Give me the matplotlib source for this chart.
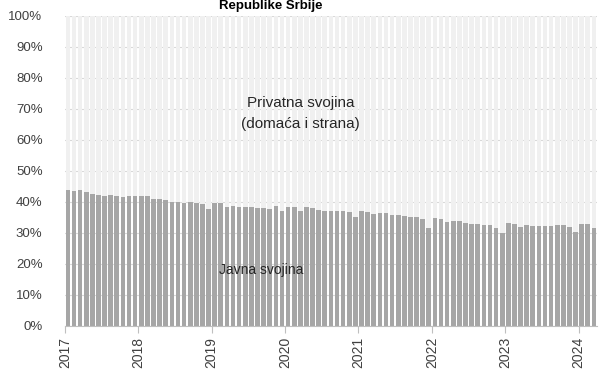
"""
Struktura svojine - javna vs privatna, mesecno 2017-2024
"""
import matplotlib
matplotlib.use("Agg")
import matplotlib.pyplot as plt
import numpy as np

# Mesecni podaci: jan 2017 - mar 2024, udeo javne svojine (%)
javna = [
    # 2017
    43.9, 43.6, 43.9, 43.1, 42.6, 42.2, 41.9, 42.2, 41.9, 41.7, 41.8, 42.0,
    # 2018
    41.9, 41.9, 41.1, 40.9, 40.5, 39.9, 39.9, 39.8, 39.9, 39.6, 39.3, 37.7,
    # 2019
    39.5, 39.5, 38.4, 38.7, 38.3, 38.3, 38.3, 38.1, 38.1, 37.6, 38.8, 37.2,
    # 2020
    38.5, 38.5, 37.2, 38.5, 38.0, 37.4, 37.2, 37.2, 37.1, 37.0, 36.8, 35.2,
    # 2021
    37.2, 36.8, 36.0, 36.4, 36.3, 35.8, 35.8, 35.6, 35.2, 35.1, 34.4, 31.7,
    # 2022
    34.7, 34.5, 33.5, 33.7, 33.7, 33.1, 32.9, 32.8, 32.7, 32.7, 31.7, 29.9,
    # 2023
    33.1, 32.9, 31.8, 32.7, 32.4, 32.1, 32.1, 32.3, 32.7, 32.6, 31.8, 30.4,
    # 2024
    33.0, 32.8, 31.7,
]
privatna = [100 - v for v in javna]
godine = ["2017", "2018", "2019", "2020", "2021", "2022", "2023", "2024"]

x = np.arange(len(javna))

plt.rcParams["font.family"] = ["Liberation Sans", "DejaVu Sans"]

fig = plt.figure(figsize=(6, 3.7), dpi=100)
ax = fig.add_axes([0.108, 0.119, 0.887, 0.838])

ax.bar(x, javna, width=0.76, color="#a6a6a6", zorder=2)
ax.bar(x, privatna, bottom=javna, width=0.76, color="#f0f0f0", zorder=2)

ax.set_xlim(-0.5, len(javna) - 0.5)
ax.set_ylim(0, 100)
ax.set_yticks(np.arange(0, 101, 10))
ax.set_yticklabels([f"{v}%" for v in range(0, 101, 10)], fontsize=9.5, color="#404040")
ax.yaxis.grid(True, color="#d9d9d9", linewidth=0.8, zorder=0)
ax.tick_params(axis="y", length=0, pad=16)

# godine na pocetku januara
ax.set_xticks(np.arange(0, len(javna), 12) - 0.5)
ax.set_xticklabels(godine, rotation=90, fontsize=10, color="#404040")
ax.tick_params(axis="x", length=5, color="#bfbfbf", pad=3)

for s in ["top", "right", "left"]:
    ax.spines[s].set_visible(False)
ax.spines["bottom"].set_color("#bfbfbf")

ax.text(38.0, 68.5, "Privatna svojina\n(domaća i strana)", ha="center", va="center",
        fontsize=11, color="#262626", linespacing=1.65, zorder=3)
ax.text(31.6, 18, "Javna svojina", ha="center", va="center",
        fontsize=10, color="#262626", zorder=3)

fig.text(0.452, 0.975, "Republike Srbije", ha="center", va="baseline",
         fontsize=9.5, fontweight="bold", color="#000000")

fig.savefig("out.png", dpi=100)
